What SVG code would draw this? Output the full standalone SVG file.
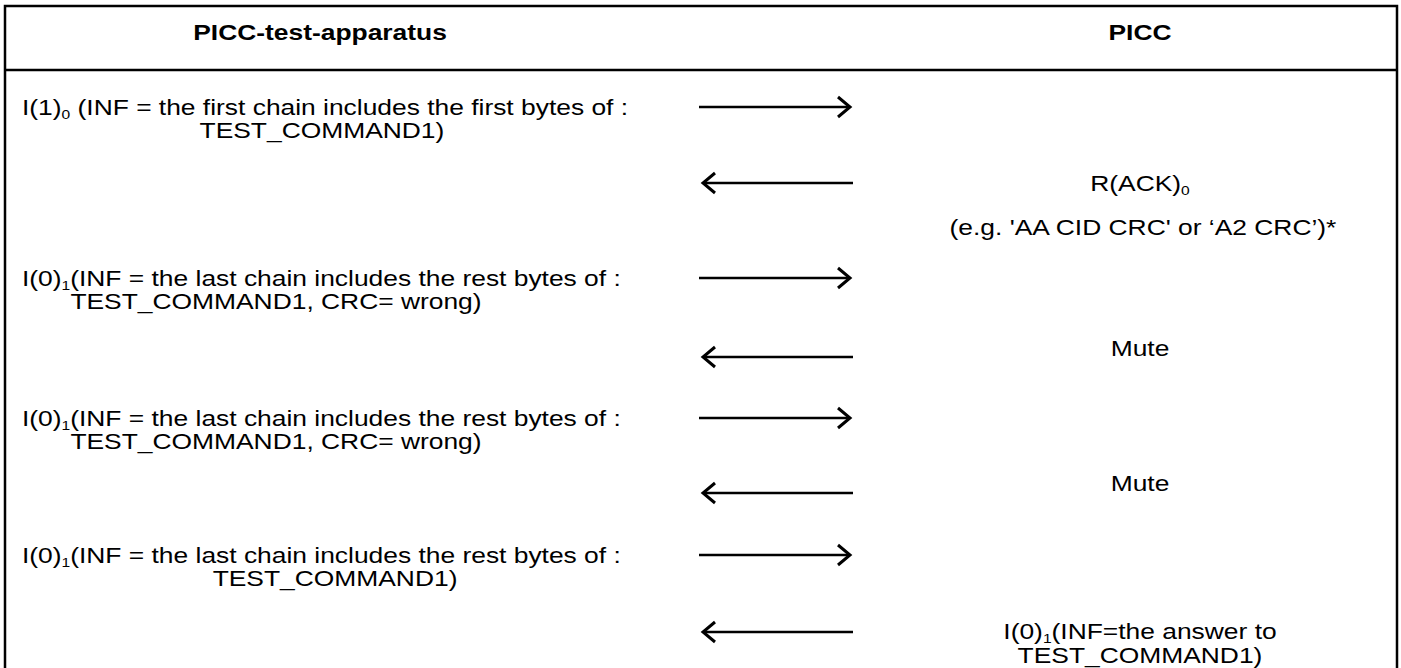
<svg xmlns="http://www.w3.org/2000/svg" width="1401" height="668" viewBox="0 0 1401 668">
<style>
text{font-family:"Liberation Sans",Arial,sans-serif;font-size:22px;fill:#000}
.h{font-weight:bold}
.c{text-anchor:middle}
.sub{font-size:13px}
.ln{stroke:#000;stroke-width:2.5;fill:none}
.bd{stroke:#000;stroke-width:2.5;fill:none}
</style>
<defs>
<marker id="ah" markerUnits="userSpaceOnUse" markerWidth="18" markerHeight="26" refX="14" refY="13" orient="auto">
<path d="M2,3 L14,13 L2,23" fill="none" stroke="#000" stroke-width="3"/>
</marker>
</defs>
<rect width="1401" height="668" fill="#fff"/>
<g id="table">
<path class="bd" d="M5,680 V6 H1397 V680"/>
<line class="bd" x1="5" y1="70" x2="1397" y2="70"/>
</g>
<g transform="scale(1.2 1)">
<g id="hdr-apparatus"><text class="h c" x="266.7" y="40">PICC-test-apparatus</text></g>
<g id="hdr-picc"><text class="h c" x="950" y="40">PICC</text></g>
<g id="cmd1">
<text x="18.3" y="115">I(1)<tspan class="sub" dy="4">0</tspan><tspan dy="-4"> (INF = the first chain includes the first bytes of :</tspan></text>
<text class="c" x="268.3" y="138">TEST_COMMAND1)</text>
</g>
<g id="rack">
<text class="c" x="950" y="191">R(ACK)<tspan class="sub" dy="4">0</tspan></text>
<text class="c" x="952.5" y="235">(e.g. 'AA CID CRC' or ‘A2 CRC’)*</text>
</g>
<g id="cmd2">
<text x="18.3" y="286">I(0)<tspan class="sub" dy="4">1</tspan><tspan dy="-4">(INF = the last chain includes the rest bytes of :</tspan></text>
<text class="c" x="230" y="309">TEST_COMMAND1, CRC= wrong)</text>
</g>
<g id="mute1"><text class="c" x="950" y="356">Mute</text></g>
<g id="cmd3">
<text x="18.3" y="426">I(0)<tspan class="sub" dy="4">1</tspan><tspan dy="-4">(INF = the last chain includes the rest bytes of :</tspan></text>
<text class="c" x="230" y="449">TEST_COMMAND1, CRC= wrong)</text>
</g>
<g id="mute2"><text class="c" x="950" y="491">Mute</text></g>
<g id="cmd4">
<text x="18.3" y="563">I(0)<tspan class="sub" dy="4">1</tspan><tspan dy="-4">(INF = the last chain includes the rest bytes of :</tspan></text>
<text class="c" x="279.2" y="586">TEST_COMMAND1)</text>
</g>
<g id="answer">
<text class="c" x="950" y="639">I(0)<tspan class="sub" dy="4">1</tspan><tspan dy="-4">(INF=the answer to</tspan></text>
<text class="c" x="950" y="663">TEST_COMMAND1)</text>
</g>
</g>
<g id="connectors">
<line class="ln" x1="699" y1="107" x2="850" y2="107" marker-end="url(#ah)"/>
<line class="ln" x1="853" y1="183" x2="703" y2="183" marker-end="url(#ah)"/>
<line class="ln" x1="699" y1="278" x2="850" y2="278" marker-end="url(#ah)"/>
<line class="ln" x1="853" y1="357" x2="703" y2="357" marker-end="url(#ah)"/>
<line class="ln" x1="699" y1="418" x2="850" y2="418" marker-end="url(#ah)"/>
<line class="ln" x1="853" y1="493" x2="703" y2="493" marker-end="url(#ah)"/>
<line class="ln" x1="699" y1="555" x2="850" y2="555" marker-end="url(#ah)"/>
<line class="ln" x1="853" y1="632" x2="703" y2="632" marker-end="url(#ah)"/>
</g>
</svg>
